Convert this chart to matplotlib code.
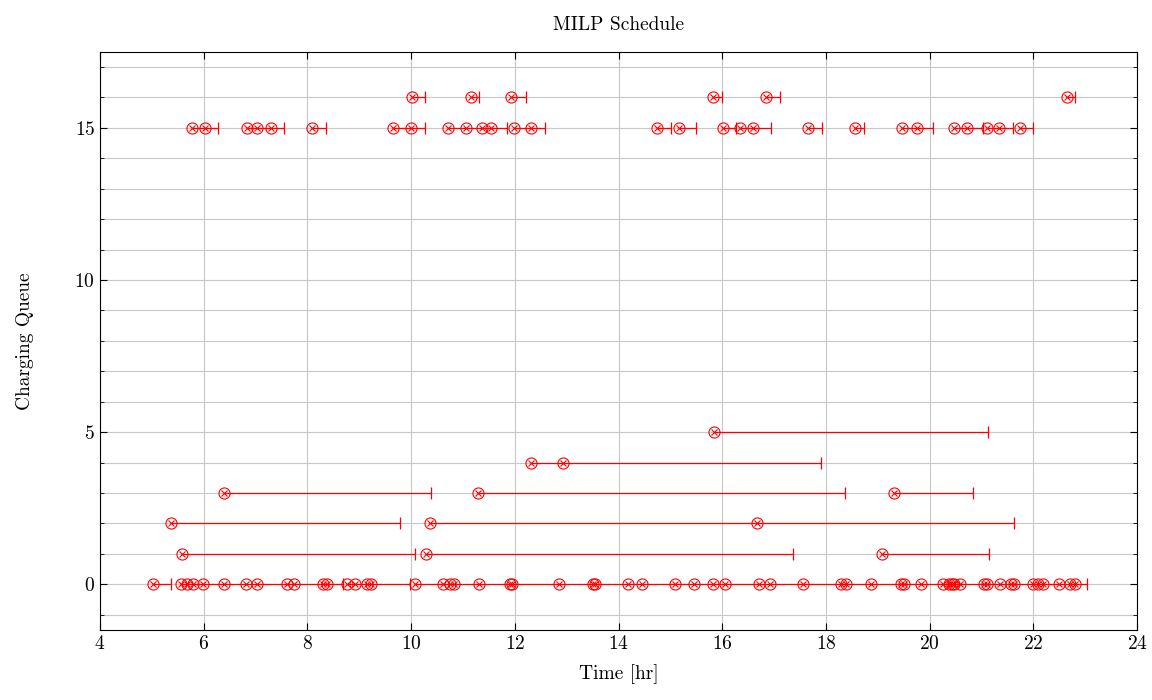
import numpy as np
import matplotlib.pyplot as plt

plt.rcParams['font.family'] = ['cmr10', 'DejaVu Serif']
plt.rcParams['mathtext.fontset'] = 'cm'
plt.rcParams['axes.formatter.use_mathtext'] = True

# charging queue index of each row
queue_ids = [0, 1, 2, 3, 4, 5, 15, 16]

# start times (markers) per queue
starts = [
    [5.03,
     5.57, 5.67, 5.80, 5.99, 6.40, 6.82, 7.02, 7.60, 7.74, 8.30, 8.38,
     8.76, 8.92, 9.15, 9.22,
     10.08, 10.61, 10.75, 10.82, 11.31, 11.90, 11.94, 12.86, 13.50, 13.55,
     14.19, 14.45, 15.08, 15.46, 15.83, 16.06, 16.71, 16.93, 17.55, 18.30,
     18.38, 18.86, 19.45, 19.50, 19.84, 20.26, 20.38, 20.43, 20.47, 20.58,
     21.05, 21.10, 21.36, 21.57, 21.62, 22.00, 22.09, 22.18, 22.49, 22.71,
     22.81],
    [5.59, 10.29, 19.09],
    [5.36, 10.36, 16.68],
    [6.39, 11.29, 19.31],
    [12.32, 12.92],
    [15.84],
    [5.77, 6.02, 6.84, 7.03, 7.29, 8.08, 9.66, 9.99, 10.72, 11.05, 11.37,
     11.55, 11.98, 12.31, 14.74, 15.16, 16.01, 16.35, 16.60, 17.66, 18.57,
     19.47, 19.76, 20.47, 20.73, 21.10, 21.34, 21.74],
    [10.02, 11.15, 11.92, 15.82, 16.84, 22.64],
]

# end times shown with a cap (other ends coincide with the next start)
caps = [
    [5.36, 8.69, 9.98, 23.04],
    [10.07, 17.37, 21.15],
    [9.78, 21.62],
    [10.38, 18.37, 20.83],
    [17.91],
    [21.13],
    [6.28, 7.55, 8.36, 10.27, 11.84, 12.58, 15.02, 15.50, 16.26, 16.95,
     17.93, 18.74, 20.06, 21.02, 21.61, 22.00],
    [10.27, 11.31, 12.22, 15.99, 17.12, 22.81],
]

fig, ax = plt.subplots(figsize=(11.52, 7.0), dpi=100)
fig.subplots_adjust(left=0.0868, right=0.987, top=0.926, bottom=0.1)

for q, s_list, c_list in zip(queue_ids, starts, caps):
    s_arr = np.array(s_list)
    events = np.sort(np.array(s_list + c_list))
    ends = np.array([events[events > s].min() for s in s_arr])
    ax.hlines([q] * len(s_arr), s_arr, ends, colors='red', linewidth=0.9, zorder=3)
    ax.plot(c_list, [q] * len(c_list), linestyle='none', marker='|',
            markersize=8, markeredgewidth=0.9, color='red', zorder=4)
    ax.plot(s_arr, [q] * len(s_arr), linestyle='none', marker='o',
            markersize=8, markerfacecolor='none', markeredgewidth=0.8,
            color='red', zorder=5)
    ax.plot(s_arr, [q] * len(s_arr), linestyle='none', marker='x',
            markersize=5.0, markeredgewidth=0.8, color='red', zorder=5)

ax.set_xlim(4, 24)
ax.set_ylim(-1.5, 17.5)
ax.set_xticks(np.arange(4, 25, 2))
ax.set_yticks([0, 5, 10, 15])
ax.set_yticks(np.arange(-1, 18, 1), minor=True)
ax.grid(True, which='major', axis='x', color='#c8c8c8', linewidth=0.8)
ax.grid(True, which='both', axis='y', color='#c8c8c8', linewidth=0.8)
ax.set_axisbelow(True)
ax.tick_params(which='both', direction='in', top=True, right=True,
               labelsize=14, length=5)
ax.tick_params(which='minor', length=3)
ax.tick_params(axis='x', which='minor', bottom=False, top=False)

ax.set_title('MILP Schedule', fontsize=14, pad=16)
ax.set_xlabel('Time [hr]', fontsize=14, labelpad=8)
ax.set_ylabel('Charging Queue', fontsize=14, labelpad=29)

fig.savefig('out.png', dpi=100)
